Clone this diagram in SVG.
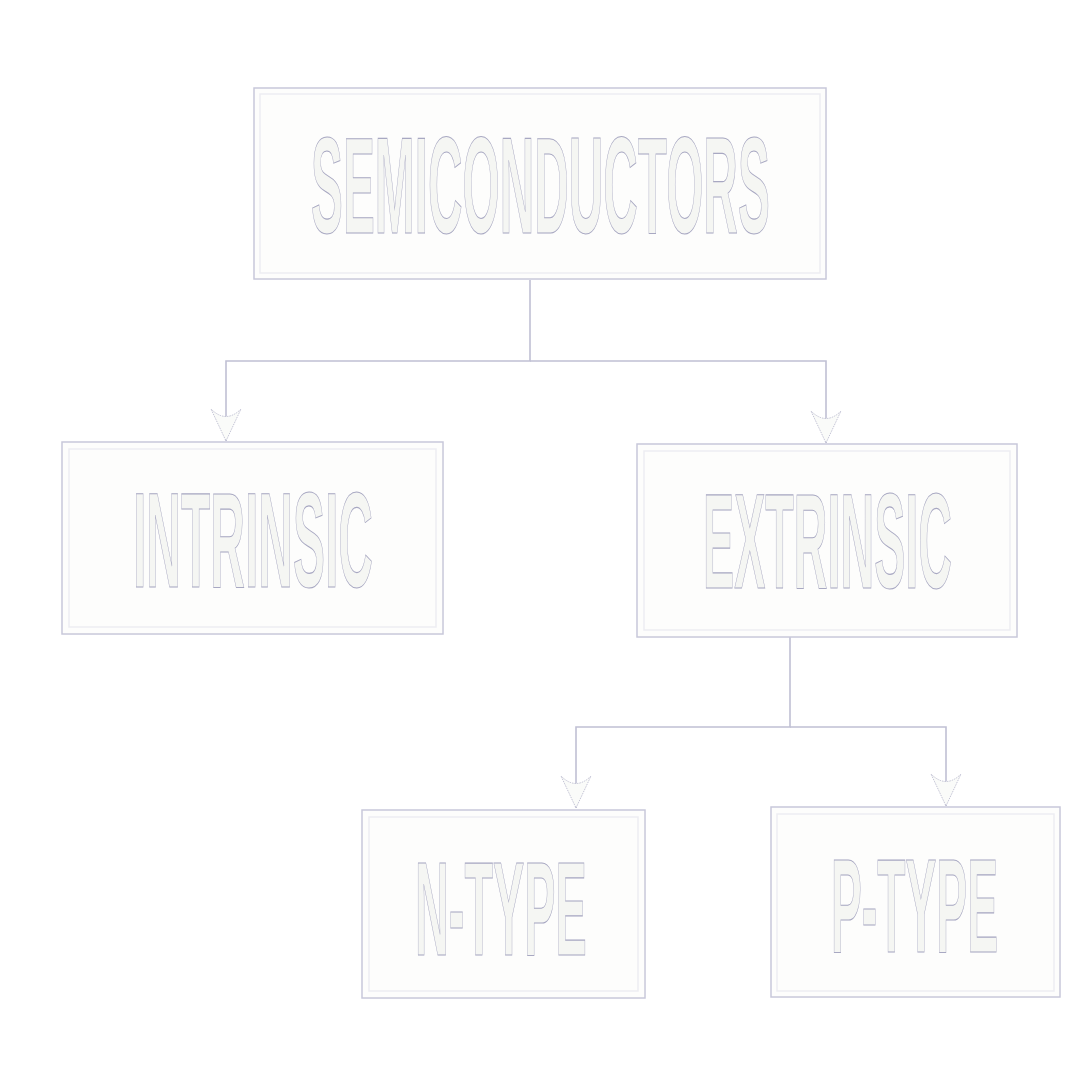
<svg xmlns="http://www.w3.org/2000/svg" width="1080" height="1080" viewBox="0 0 1080 1080">
<style>
.box{fill:#fdfdfc;stroke:#c8c8da;stroke-width:1.5}
.inner{fill:none;stroke:#ededf2;stroke-width:1.5}
.lbl{font-family:"Liberation Sans",Arial,sans-serif;font-weight:bold;fill:#f5f6f3;stroke:#a8a8c2;stroke-width:0.8;vector-effect:non-scaling-stroke}
.con{fill:none;stroke:#c0c0d4;stroke-width:1.6}
</style>
<defs>
<marker id="arr" viewBox="-33 -16 34 32" refX="0" refY="0" markerWidth="34" markerHeight="32" markerUnits="userSpaceOnUse" orient="auto">
<path d="M0,0 L-32,-15 Q-17,0 -32,15 Z" fill="#fafbf9" stroke="#b4b4ca" stroke-width="0.8" stroke-dasharray="1.5 1"/>
</marker>
</defs>
<rect width="1080" height="1080" fill="#ffffff"/>
<g id="connectors">
<path class="con" d="M530,280 V361 H226 V441" marker-end="url(#arr)"/>
<path class="con" d="M530,361 H826 V443" marker-end="url(#arr)"/>
<path class="con" d="M790,637 V727 H576 V808" marker-end="url(#arr)"/>
<path class="con" d="M790,727 H946 V806" marker-end="url(#arr)"/>
</g>
<g id="semiconductors">
<rect class="box" x="254" y="88" width="572" height="191"/>
<rect class="inner" x="260" y="94" width="560" height="179"/>
<text class="lbl" transform="translate(311,233) scale(0.346,1)" x="0" y="0" font-size="138" textLength="1326" lengthAdjust="spacingAndGlyphs">SEMICONDUCTORS</text>
</g>
<g id="intrinsic">
<rect class="box" x="62" y="442" width="381" height="192"/>
<rect class="inner" x="69" y="449" width="367" height="178"/>
<text class="lbl" transform="translate(133,587) scale(0.3556,1)" x="0" y="0" font-size="135" textLength="675" lengthAdjust="spacingAndGlyphs">INTRINSIC</text>
</g>
<g id="extrinsic">
<rect class="box" x="637" y="444" width="380" height="193"/>
<rect class="inner" x="644" y="451" width="366" height="179"/>
<text class="lbl" transform="translate(703,588) scale(0.3458,1)" x="0" y="0" font-size="135" textLength="720" lengthAdjust="spacingAndGlyphs">EXTRINSIC</text>
</g>
<g id="n-type">
<rect class="box" x="362" y="810" width="283" height="188"/>
<rect class="inner" x="369" y="817" width="269" height="174"/>
<text class="lbl" transform="translate(415,955) scale(0.35,1)" x="0" y="0" font-size="134" textLength="491" lengthAdjust="spacingAndGlyphs">N-TYPE</text>
</g>
<g id="p-type">
<rect class="box" x="771" y="807" width="289" height="190"/>
<rect class="inner" x="777" y="814" width="277" height="177"/>
<text class="lbl" transform="translate(831,952) scale(0.345,1)" x="0" y="0" font-size="134" textLength="484" lengthAdjust="spacingAndGlyphs">P-TYPE</text>
</g>
</svg>
